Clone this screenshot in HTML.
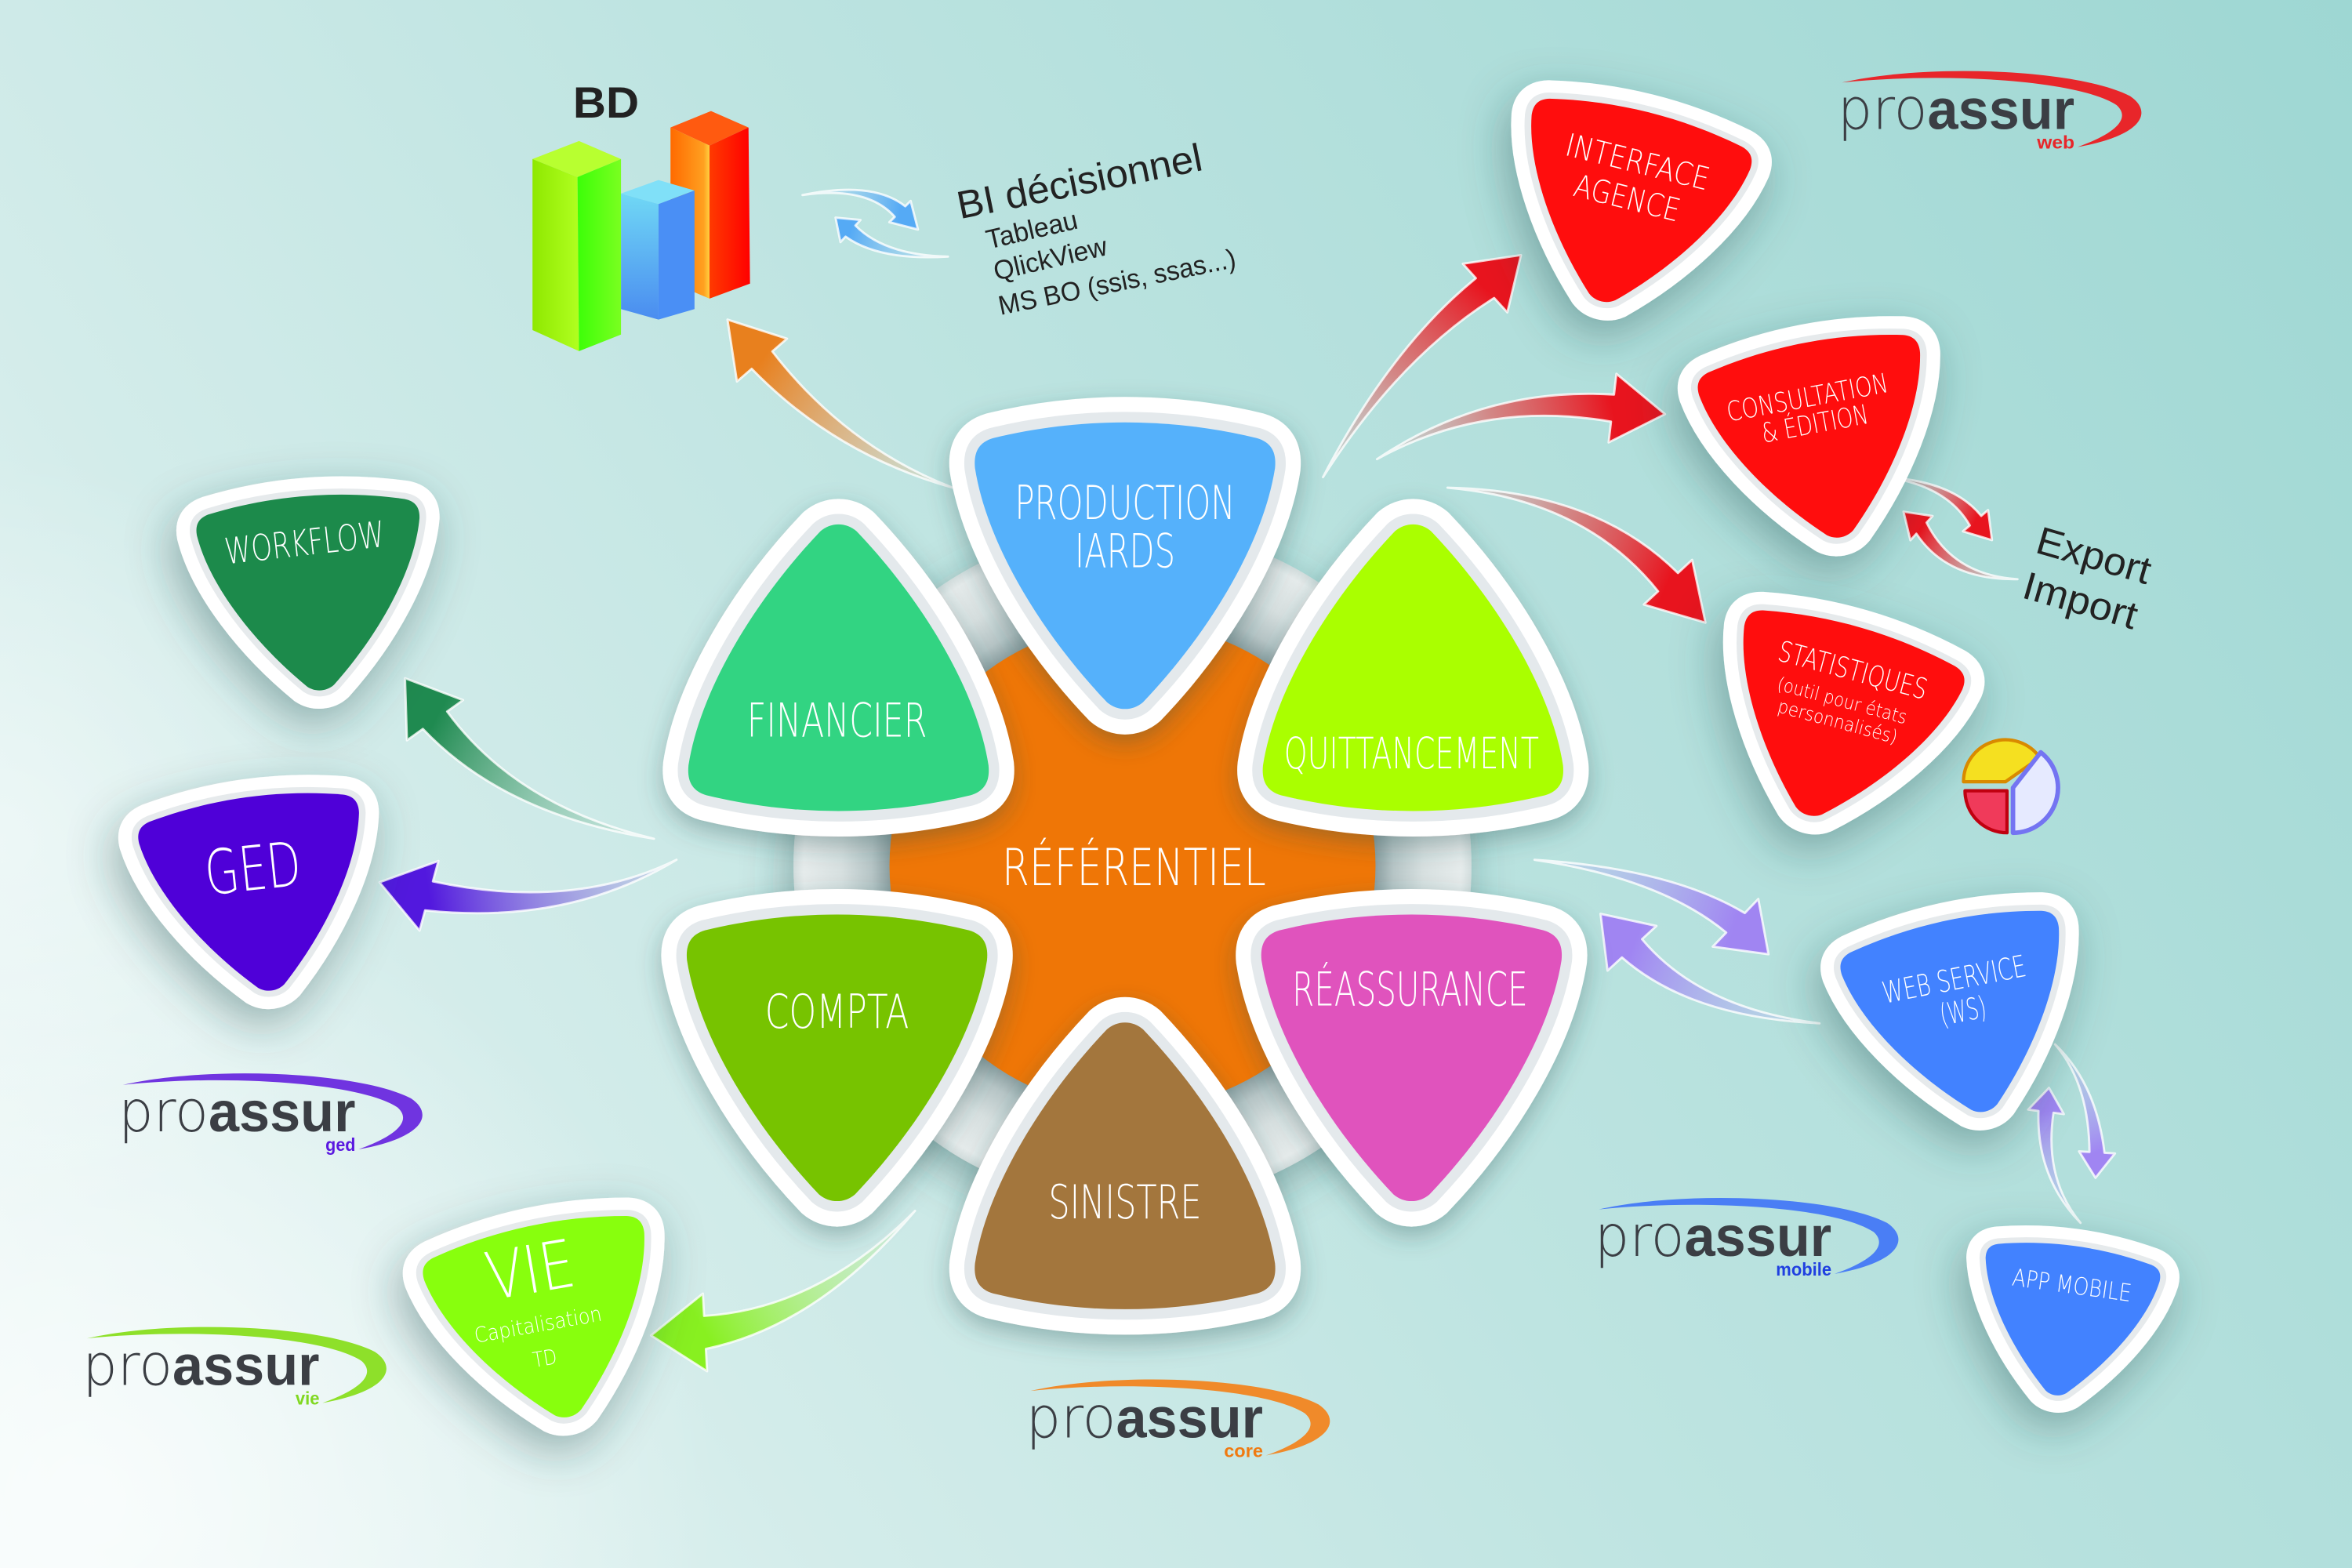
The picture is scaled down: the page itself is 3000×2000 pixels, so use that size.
<!DOCTYPE html>
<html><head><meta charset="utf-8">
<style>
html,body{margin:0;padding:0;width:3000px;height:2000px;overflow:hidden;background:#c8e8e6}
svg{display:block}
.w{font-family:"DejaVu Sans","Liberation Sans Narrow","Liberation Sans",sans-serif;font-weight:200;fill:#fff}
.d{font-family:"Liberation Sans Narrow","Liberation Sans",sans-serif;fill:#222}
.s{font-family:"DejaVu Sans","Liberation Sans",sans-serif;font-weight:300;fill:#fff}
.lg{font-family:"Liberation Sans",sans-serif;fill:#3b3e44}
.lt{font-family:"DejaVu Sans","Liberation Sans",sans-serif;font-weight:200;fill:#3b3e44}
</style></head>
<body>
<svg width="3000" height="2000" viewBox="0 0 1568 1045" preserveAspectRatio="none" xmlns="http://www.w3.org/2000/svg">
<defs>
<linearGradient id="bg" x1="0" y1="1045" x2="1568" y2="0" gradientUnits="userSpaceOnUse">
<stop offset="0" stop-color="#eef8f7"/><stop offset="0.25" stop-color="#d3ecea"/><stop offset="0.5" stop-color="#bee4e1"/><stop offset="1" stop-color="#9ed7d3"/>
</linearGradient>
<radialGradient id="glow" cx="60" cy="1000" r="420" gradientUnits="userSpaceOnUse">
<stop offset="0" stop-color="#ffffff" stop-opacity="0.7"/><stop offset="1" stop-color="#ffffff" stop-opacity="0"/>
</radialGradient>
<radialGradient id="glow2" cx="0" cy="560" r="260" gradientUnits="userSpaceOnUse">
<stop offset="0" stop-color="#ffffff" stop-opacity="0.45"/><stop offset="1" stop-color="#ffffff" stop-opacity="0"/>
</radialGradient>
<radialGradient id="ring" cx="755" cy="577" r="226" gradientUnits="userSpaceOnUse">
<stop offset="0.70" stop-color="#7f9496"/><stop offset="0.77" stop-color="#b7c6c7"/><stop offset="0.86" stop-color="#d8e1e1"/><stop offset="0.97" stop-color="#e6ecec"/><stop offset="1" stop-color="#d2dddd"/>
</radialGradient>
<filter id="ds" x="-30%" y="-30%" width="160%" height="170%"><feDropShadow dx="0" dy="6" stdDeviation="8" flood-color="#2c4d4d" flood-opacity="0.35"/></filter>
<filter id="ds2" x="-50%" y="-50%" width="200%" height="200%"><feDropShadow dx="-4" dy="10" stdDeviation="15" flood-color="#2c4d4d" flood-opacity="0.4"/></filter>
<path id="pk" d="M -88,-86 C -30,-100 30,-100 88,-86 C 98,-83 101,-76 100,-66 C 92,-15 55,45 12,90 C 5,96 -5,96 -12,90 C -55,45 -92,-15 -100,-66 C -101,-76 -98,-83 -88,-86 Z"/>
<path id="sw" d="M 3,-31 C 60,-44 160,-40 195,-22 C 210,-12 205,4 160,12 C 188,2 195,-8 186,-16 C 160,-33 70,-38 3,-31 Z"/>

<linearGradient id="gO" gradientUnits="userSpaceOnUse" x1="635" y1="325" x2="508" y2="240"><stop offset="0" stop-color="#e6c7a0" stop-opacity="0.1"/><stop offset="0.45" stop-color="#e2ad78" stop-opacity="0.7"/><stop offset="1" stop-color="#e8801e"/></linearGradient>
<linearGradient id="gB1" gradientUnits="userSpaceOnUse" x1="535" y1="130" x2="600" y2="141"><stop offset="0" stop-color="#a8d6f5" stop-opacity="0.1"/><stop offset="1" stop-color="#55aaf5"/></linearGradient>
<linearGradient id="gB2" gradientUnits="userSpaceOnUse" x1="632" y1="171" x2="567" y2="154"><stop offset="0" stop-color="#a8d6f5" stop-opacity="0.1"/><stop offset="1" stop-color="#55aaf5"/></linearGradient>
<linearGradient id="gR1" gradientUnits="userSpaceOnUse" x1="882" y1="318" x2="990" y2="192"><stop offset="0" stop-color="#e6a0a0" stop-opacity="0.1"/><stop offset="0.5" stop-color="#e06060" stop-opacity="0.7"/><stop offset="1" stop-color="#e8141e"/></linearGradient>
<linearGradient id="gR2" gradientUnits="userSpaceOnUse" x1="918" y1="306" x2="1075" y2="272"><stop offset="0" stop-color="#e6a0a0" stop-opacity="0.1"/><stop offset="0.5" stop-color="#e06060" stop-opacity="0.7"/><stop offset="1" stop-color="#e8141e"/></linearGradient>
<linearGradient id="gR3" gradientUnits="userSpaceOnUse" x1="965" y1="325" x2="1112" y2="388"><stop offset="0" stop-color="#e6a0a0" stop-opacity="0.1"/><stop offset="0.5" stop-color="#e06060" stop-opacity="0.7"/><stop offset="1" stop-color="#e8141e"/></linearGradient>
<linearGradient id="gR4" gradientUnits="userSpaceOnUse" x1="1257" y1="318" x2="1317" y2="347"><stop offset="0" stop-color="#e6a0a0" stop-opacity="0.1"/><stop offset="1" stop-color="#e8141e"/></linearGradient>
<linearGradient id="gR5" gradientUnits="userSpaceOnUse" x1="1345" y1="386" x2="1281" y2="352"><stop offset="0" stop-color="#e6a0a0" stop-opacity="0.1"/><stop offset="1" stop-color="#e8141e"/></linearGradient>
<linearGradient id="gG" gradientUnits="userSpaceOnUse" x1="436" y1="559" x2="290" y2="480"><stop offset="0" stop-color="#a8d4c0" stop-opacity="0.2"/><stop offset="1" stop-color="#1f8a50"/></linearGradient>
<linearGradient id="gP" gradientUnits="userSpaceOnUse" x1="451" y1="573" x2="286" y2="597"><stop offset="0" stop-color="#b0b8e0" stop-opacity="0.3"/><stop offset="1" stop-color="#5218de"/></linearGradient>
<linearGradient id="gL" gradientUnits="userSpaceOnUse" x1="610" y1="807" x2="470" y2="888"><stop offset="0" stop-color="#c0f0a0" stop-opacity="0.1"/><stop offset="1" stop-color="#88f020"/></linearGradient>
<linearGradient id="gV1" gradientUnits="userSpaceOnUse" x1="1023" y1="573" x2="1157" y2="615"><stop offset="0" stop-color="#b8c8f0" stop-opacity="0.2"/><stop offset="1" stop-color="#a085f2"/></linearGradient>
<linearGradient id="gV2" gradientUnits="userSpaceOnUse" x1="1213" y1="682" x2="1088" y2="632"><stop offset="0" stop-color="#b8c8f0" stop-opacity="0.2"/><stop offset="1" stop-color="#a085f2"/></linearGradient>
<linearGradient id="gV3" gradientUnits="userSpaceOnUse" x1="1370" y1="696" x2="1398" y2="768"><stop offset="0" stop-color="#b8c8f0" stop-opacity="0.2"/><stop offset="1" stop-color="#a085f2"/></linearGradient>
<linearGradient id="gV4" gradientUnits="userSpaceOnUse" x1="1387" y1="815" x2="1364" y2="741"><stop offset="0" stop-color="#b8c8f0" stop-opacity="0.2"/><stop offset="1" stop-color="#a085f2"/></linearGradient>

<linearGradient id="bG1" x1="0" y1="0" x2="1" y2="0"><stop offset="0" stop-color="#8fe800"/><stop offset="1" stop-color="#b0ff20"/></linearGradient>
<linearGradient id="bG2" x1="0" y1="0" x2="1" y2="0"><stop offset="0" stop-color="#3cff08"/><stop offset="1" stop-color="#7aff20"/></linearGradient>
<linearGradient id="bB1" x1="0" y1="0" x2="0" y2="1"><stop offset="0" stop-color="#70d8f5"/><stop offset="1" stop-color="#4a8cf0"/></linearGradient>
<linearGradient id="bR1" x1="0" y1="0" x2="1" y2="0"><stop offset="0" stop-color="#ff6a00"/><stop offset="0.85" stop-color="#ffa020"/><stop offset="1" stop-color="#ffd040"/></linearGradient>
<linearGradient id="bR2" x1="0" y1="0" x2="1" y2="0"><stop offset="0" stop-color="#ff3a00"/><stop offset="1" stop-color="#ff0000"/></linearGradient>
</defs>

<!-- background -->
<rect x="0" y="0" width="1568" height="1045" fill="url(#bg)"/>
<rect x="0" y="0" width="1568" height="1045" fill="url(#glow)"/>
<rect x="0" y="0" width="1568" height="1045" fill="url(#glow2)"/>

<!-- central ring -->
<g filter="url(#ds2)"><circle cx="755" cy="577" r="226" fill="url(#ring)"/></g>
<circle cx="755" cy="577" r="162" fill="#ef7606"/>

<!-- arrows -->
<g stroke="#ffffff" stroke-opacity="0.8" stroke-width="1.5" stroke-linejoin="round">
<path fill="url(#gO)" d="M635,325 Q563.4,297.1 514.9,234.2 L524.7,225.7 L485,213 L491.3,254.3 L501.1,245.8 Q556.6,302.9 635,325 Z"/>
<path fill="url(#gB1)" d="M535,130 Q578.2,123.8 596.5,144.5 L592.9,148.1 L612,153 L607.1,133.9 L603.5,137.5 Q581.8,120.2 535,130 Z"/>
<path fill="url(#gB2)" d="M632,171 Q589.7,170.1 570.3,150.3 L573.7,146.6 L557,145 L560.3,161.4 L563.7,157.7 Q586.3,173.9 632,171 Z"/>
<path fill="url(#gR1)" d="M882,318 Q933,238.3 996.1,198.6 L1004.9,208.2 L1014,170 L975.2,175.8 L983.9,185.4 Q927,231.7 882,318 Z"/>
<path fill="url(#gR2)" d="M918,306 Q989.5,266.5 1074,281 L1072.4,294.9 L1110,276 L1077.6,249.1 L1076,263 Q990.5,257.5 918,306 Z"/>
<path fill="url(#gR3)" d="M965,325 Q1056.7,333.1 1105.4,394.1 L1095.9,402.9 L1137,415 L1128.1,373.1 L1118.6,381.9 Q1063.3,326.9 965,325 Z"/>
<path fill="url(#gR4)" d="M1257,318 Q1298.1,323.6 1313.2,350.2 L1308.6,354.1 L1328,360 L1325.4,339.9 L1320.8,343.8 Q1301.9,320.4 1257,318 Z"/>
<path fill="url(#gR5)" d="M1345,386 Q1301.7,383.2 1284.4,348.3 L1288.4,343.9 L1269,341 L1273.6,360.1 L1277.6,355.7 Q1298.3,386.8 1345,386 Z"/>
<path fill="url(#gG)" d="M436,559 Q344.1,537.1 298.1,474.2 L308.7,466.6 L270,452 L271.3,493.4 L281.9,485.8 Q335.9,542.9 436,559 Z"/>
<path fill="url(#gP)" d="M451,573 Q381.3,607.2 288.6,587.4 L292.3,573.8 L253,588 L279.7,620.2 L283.4,606.7 Q378.7,616.8 451,573 Z"/>
<path fill="url(#gL)" d="M610,807 Q544.7,872.5 469.4,877 L468.6,862.1 L434,890 L471.4,913.9 L470.6,899 Q545.3,883.5 610,807 Z"/>
<path fill="url(#gV1)" d="M1023,573 Q1106.9,585.3 1150.8,621.5 L1141.8,630.9 L1179,636 L1172.2,599.1 L1163.2,608.5 Q1113.1,578.7 1023,573 Z"/>
<path fill="url(#gV2)" d="M1213,682 Q1133.3,672 1094.7,625.9 L1104.3,617.1 L1067,609 L1071.7,646.9 L1081.3,638.1 Q1126.7,678 1213,682 Z"/>
<path fill="url(#gV3)" d="M1370,696 Q1392.5,721.9 1393,767.7 L1386,767.3 L1397,785 L1410,768.7 L1403,768.3 Q1397.5,722.1 1370,696 Z"/>
<path fill="url(#gV4)" d="M1387,815 Q1362.5,785.3 1369,741.6 L1375.9,742.5 L1366,725 L1352.1,739.5 L1359,740.4 Q1357.5,784.7 1387,815 Z"/>
</g>

<!-- central petals -->
<g filter="url(#ds)"><g transform="translate(750,378)">
<use href="#pk" fill="#fff" stroke="#fff" stroke-width="34" stroke-linejoin="round"/><use href="#pk" fill="#e4e9ec" stroke="#e4e9ec" stroke-width="14" stroke-linejoin="round"/><use href="#pk" fill="#55b1fb"/></g></g>
<g filter="url(#ds)"><g transform="translate(559,444) rotate(180)">
<use href="#pk" fill="#fff" stroke="#fff" stroke-width="34" stroke-linejoin="round"/><use href="#pk" fill="#e4e9ec" stroke="#e4e9ec" stroke-width="14" stroke-linejoin="round"/><use href="#pk" fill="#33d482"/></g></g>
<g filter="url(#ds)"><g transform="translate(942,444) rotate(180)">
<use href="#pk" fill="#fff" stroke="#fff" stroke-width="34" stroke-linejoin="round"/><use href="#pk" fill="#e4e9ec" stroke="#e4e9ec" stroke-width="14" stroke-linejoin="round"/><use href="#pk" fill="#aaff00"/></g></g>
<g filter="url(#ds)"><g transform="translate(558,706)">
<use href="#pk" fill="#fff" stroke="#fff" stroke-width="34" stroke-linejoin="round"/><use href="#pk" fill="#e4e9ec" stroke="#e4e9ec" stroke-width="14" stroke-linejoin="round"/><use href="#pk" fill="#77c300"/></g></g>
<g filter="url(#ds)"><g transform="translate(941,706)">
<use href="#pk" fill="#fff" stroke="#fff" stroke-width="34" stroke-linejoin="round"/><use href="#pk" fill="#e4e9ec" stroke="#e4e9ec" stroke-width="14" stroke-linejoin="round"/><use href="#pk" fill="#e052bd"/></g></g>
<g filter="url(#ds)"><g transform="translate(750,776) rotate(180)">
<use href="#pk" fill="#fff" stroke="#fff" stroke-width="34" stroke-linejoin="round"/><use href="#pk" fill="#e4e9ec" stroke="#e4e9ec" stroke-width="14" stroke-linejoin="round"/><use href="#pk" fill="#a3763e"/></g></g>

<!-- satellites -->
<g filter="url(#ds2)"><g transform="translate(1083,138.5) rotate(14) scale(0.75,0.68)">
<use href="#pk" fill="#fff" stroke="#fff" stroke-width="36" stroke-linejoin="round"/><use href="#pk" fill="#e6eaec" stroke="#e6eaec" stroke-width="12" stroke-linejoin="round"/><use href="#pk" fill="#ff0a0a"/></g></g>
<g filter="url(#ds2)"><g transform="translate(1215,294) rotate(-10.9) scale(0.75,0.69)">
<use href="#pk" fill="#fff" stroke="#fff" stroke-width="36" stroke-linejoin="round"/><use href="#pk" fill="#e6eaec" stroke="#e6eaec" stroke-width="12" stroke-linejoin="round"/><use href="#pk" fill="#ff0a0a"/></g></g>
<g filter="url(#ds2)"><g transform="translate(1223,481.5) rotate(16.2) scale(0.757,0.68)">
<use href="#pk" fill="#fff" stroke="#fff" stroke-width="36" stroke-linejoin="round"/><use href="#pk" fill="#e6eaec" stroke="#e6eaec" stroke-width="12" stroke-linejoin="round"/><use href="#pk" fill="#ff0a0a"/></g></g>
<g filter="url(#ds2)"><g transform="translate(209,396) rotate(-4.5) scale(0.744,0.68)">
<use href="#pk" fill="#fff" stroke="#fff" stroke-width="36" stroke-linejoin="round"/><use href="#pk" fill="#e6eaec" stroke="#e6eaec" stroke-width="12" stroke-linejoin="round"/><use href="#pk" fill="#1a8a4b"/></g></g>
<g filter="url(#ds2)"><g transform="translate(172.3,596.5) rotate(-8) scale(0.74,0.68)">
<use href="#pk" fill="#fff" stroke="#fff" stroke-width="36" stroke-linejoin="round"/><use href="#pk" fill="#e6eaec" stroke="#e6eaec" stroke-width="12" stroke-linejoin="round"/><use href="#pk" fill="#4f00d8"/></g></g>
<g filter="url(#ds2)"><g transform="translate(365.7,881.5) rotate(-12.2) scale(0.75,0.68)">
<use href="#pk" fill="#fff" stroke="#fff" stroke-width="36" stroke-linejoin="round"/><use href="#pk" fill="#e6eaec" stroke="#e6eaec" stroke-width="12" stroke-linejoin="round"/><use href="#pk" fill="#88ff10"/></g></g>
<g filter="url(#ds2)"><g transform="translate(1309.8,678) rotate(-12.3) scale(0.74,0.68)">
<use href="#pk" fill="#fff" stroke="#fff" stroke-width="36" stroke-linejoin="round"/><use href="#pk" fill="#e6eaec" stroke="#e6eaec" stroke-width="12" stroke-linejoin="round"/><use href="#pk" fill="#4282ff"/></g></g>
<g filter="url(#ds2)"><g transform="translate(1377,880.7) rotate(7.8) scale(0.585,0.525)">
<use href="#pk" fill="#fff" stroke="#fff" stroke-width="44" stroke-linejoin="round"/><use href="#pk" fill="#e6eaec" stroke="#e6eaec" stroke-width="14" stroke-linejoin="round"/><use href="#pk" fill="#4282ff"/></g></g>

<!-- bar chart -->
<polygon points="447,85 474,74 499,85 473,97" fill="#ff5a10"/>
<polygon points="447,85 473,97 473,199 447,188" fill="url(#bR1)"/>
<polygon points="473,97 499,85 500,189 473,199" fill="url(#bR2)"/>
<polygon points="414,129 439,120 463,127 439,136" fill="#80e0f8"/>
<polygon points="414,129 439,136 439,213 414,206" fill="url(#bB1)"/>
<polygon points="439,136 463,127 463,206 439,213" fill="#4a8ff5"/>
<polygon points="355,106 386,94 414,106 385,118" fill="#b8ff30"/>
<polygon points="355,106 385,118 386,234 355,220" fill="url(#bG1)"/>
<polygon points="385,118 414,106 414,223 386,234" fill="url(#bG2)"/>
<text class="d" x="404" y="78.4" font-size="29" font-weight="bold" text-anchor="middle" textLength="44" lengthAdjust="spacingAndGlyphs" style="font-family:'Liberation Sans',sans-serif">BD</text>

<!-- pie -->
<path d="M1337,521 L1309,521 A28,28 0 0 1 1359.9,504.9 Z" fill="#f5e020" stroke="#d98a00" stroke-width="2.2" stroke-linejoin="round"/>
<path d="M1338,527 L1338,555 A28,28 0 0 1 1310,527 Z" fill="#f03a5a" stroke="#c00010" stroke-width="2.2" stroke-linejoin="round"/>
<path d="M1342,525 L1360.5,501.4 A30,30 0 0 1 1342,555 Z" fill="#e6eaff" stroke="#7474f2" stroke-width="3" stroke-linejoin="round"/>

<!-- BI text -->
<text class="d" transform="translate(640,146) rotate(-11.4)" font-size="26" textLength="166" lengthAdjust="spacingAndGlyphs">BI décisionnel</text>
<text class="d" transform="translate(659,166) rotate(-13)" font-size="18" textLength="62" lengthAdjust="spacingAndGlyphs">Tableau</text>
<text class="d" transform="translate(664,187) rotate(-13)" font-size="18" textLength="77" lengthAdjust="spacingAndGlyphs">QlickView</text>
<text class="d" transform="translate(667,210) rotate(-11.5)" font-size="18" textLength="161" lengthAdjust="spacingAndGlyphs">MS BO (ssis, ssas...)</text>
<text class="d" transform="translate(1356,368) rotate(16)" font-size="26" textLength="78" lengthAdjust="spacingAndGlyphs">Export</text>
<text class="d" transform="translate(1347,398) rotate(16)" font-size="26" textLength="78" lengthAdjust="spacingAndGlyphs">Import</text>

<!-- petal labels -->
<g class="w" text-anchor="middle">
<text x="750" y="346" font-size="31" textLength="147" lengthAdjust="spacingAndGlyphs">PRODUCTION</text>
<text x="750" y="378" font-size="31" textLength="67" lengthAdjust="spacingAndGlyphs">IARDS</text>
<text x="558" y="491" font-size="31" textLength="120" lengthAdjust="spacingAndGlyphs">FINANCIER</text>
<text x="941" y="512" font-size="29" textLength="170" lengthAdjust="spacingAndGlyphs">QUITTANCEMENT</text>
<text x="756" y="590" font-size="34" textLength="176" lengthAdjust="spacingAndGlyphs">RÉFÉRENTIEL</text>
<text x="558" y="685" font-size="31" textLength="96" lengthAdjust="spacingAndGlyphs">COMPTA</text>
<text x="940" y="670" font-size="31" textLength="157" lengthAdjust="spacingAndGlyphs">RÉASSURANCE</text>
<text x="750" y="812" font-size="31" textLength="102" lengthAdjust="spacingAndGlyphs">SINISTRE</text>

<text transform="translate(1090,115) rotate(14)" font-size="21" textLength="98" lengthAdjust="spacingAndGlyphs">INTERFACE</text>
<text transform="translate(1083,139) rotate(14)" font-size="21" textLength="72" lengthAdjust="spacingAndGlyphs">AGENCE</text>
<text transform="translate(1206,271) rotate(-10.5)" font-size="18" textLength="109" lengthAdjust="spacingAndGlyphs">CONSULTATION</text>
<text transform="translate(1211,288.5) rotate(-10.5)" font-size="18" textLength="72" lengthAdjust="spacingAndGlyphs">&amp; ÉDITION</text>
<text transform="translate(1233.5,453) rotate(15)" font-size="19" textLength="102" lengthAdjust="spacingAndGlyphs">STATISTIQUES</text>
<text transform="translate(204,370) rotate(-6.4)" font-size="24" textLength="107" lengthAdjust="spacingAndGlyphs">WORKFLOW</text>
<text transform="translate(170,593) rotate(-6)" font-size="41" textLength="64" lengthAdjust="spacingAndGlyphs">GED</text>
<text transform="translate(356,861.5) rotate(-9.6)" font-size="44" textLength="59" lengthAdjust="spacingAndGlyphs">VIE</text>
<text transform="translate(1304,659.5) rotate(-11)" font-size="20" textLength="97" lengthAdjust="spacingAndGlyphs">WEB SERVICE</text>
<text transform="translate(1310,680.5) rotate(-11)" font-size="20" textLength="31" lengthAdjust="spacingAndGlyphs">(WS)</text>
<text transform="translate(1380.5,862) rotate(7.8)" font-size="16" textLength="80" lengthAdjust="spacingAndGlyphs">APP MOBILE</text>
</g>
<g class="s" text-anchor="middle">
<text transform="translate(1227,471) rotate(15)" font-size="12.5" textLength="89" lengthAdjust="spacingAndGlyphs">(outil pour états</text>
<text transform="translate(1224,485) rotate(15)" font-size="12.5" textLength="82" lengthAdjust="spacingAndGlyphs">personnalisés)</text>
<text transform="translate(359.5,887.5) rotate(-10)" font-size="14" textLength="86" lengthAdjust="spacingAndGlyphs">Capitalisation</text>
<text transform="translate(364,910) rotate(-10)" font-size="14" textLength="16" lengthAdjust="spacingAndGlyphs">TD</text>
</g>

<!-- logos -->
<g transform="translate(1225,86)">
<use href="#sw" fill="#e8262a"/>
<text class="lt" x="0" y="0" font-size="38" textLength="60" lengthAdjust="spacingAndGlyphs">pro</text>
<text class="lg" x="60" y="0" font-size="38" font-weight="bold" textLength="98" lengthAdjust="spacingAndGlyphs">assur</text>
<text x="158" y="13" font-size="12" font-weight="bold" text-anchor="end" fill="#e8262a" textLength="25" lengthAdjust="spacingAndGlyphs" style="font-family:'Liberation Sans',sans-serif">web</text>
</g>
<g transform="translate(79,754)">
<use href="#sw" fill="#7034e0"/>
<text class="lt" x="0" y="0" font-size="38" textLength="60" lengthAdjust="spacingAndGlyphs">pro</text>
<text class="lg" x="60" y="0" font-size="38" font-weight="bold" textLength="98" lengthAdjust="spacingAndGlyphs">assur</text>
<text x="158" y="13" font-size="12" font-weight="bold" text-anchor="end" fill="#5a18e0" textLength="20" lengthAdjust="spacingAndGlyphs" style="font-family:'Liberation Sans',sans-serif">ged</text>
</g>
<g transform="translate(55,923)">
<use href="#sw" fill="#8ee02a"/>
<text class="lt" x="0" y="0" font-size="38" textLength="60" lengthAdjust="spacingAndGlyphs">pro</text>
<text class="lg" x="60" y="0" font-size="38" font-weight="bold" textLength="98" lengthAdjust="spacingAndGlyphs">assur</text>
<text x="158" y="13" font-size="12" font-weight="bold" text-anchor="end" fill="#80d820" textLength="16" lengthAdjust="spacingAndGlyphs" style="font-family:'Liberation Sans',sans-serif">vie</text>
</g>
<g transform="translate(684,958)">
<use href="#sw" fill="#f08a2a"/>
<text class="lt" x="0" y="0" font-size="38" textLength="60" lengthAdjust="spacingAndGlyphs">pro</text>
<text class="lg" x="60" y="0" font-size="38" font-weight="bold" textLength="98" lengthAdjust="spacingAndGlyphs">assur</text>
<text x="158" y="13" font-size="12" font-weight="bold" text-anchor="end" fill="#f07a10" textLength="26" lengthAdjust="spacingAndGlyphs" style="font-family:'Liberation Sans',sans-serif">core</text>
</g>
<g transform="translate(1063,837)">
<use href="#sw" fill="#4a7ef5"/>
<text class="lt" x="0" y="0" font-size="38" textLength="60" lengthAdjust="spacingAndGlyphs">pro</text>
<text class="lg" x="60" y="0" font-size="38" font-weight="bold" textLength="98" lengthAdjust="spacingAndGlyphs">assur</text>
<text x="158" y="13" font-size="12" font-weight="bold" text-anchor="end" fill="#2040e0" textLength="37" lengthAdjust="spacingAndGlyphs" style="font-family:'Liberation Sans',sans-serif">mobile</text>
</g>
</svg>
</body></html>
